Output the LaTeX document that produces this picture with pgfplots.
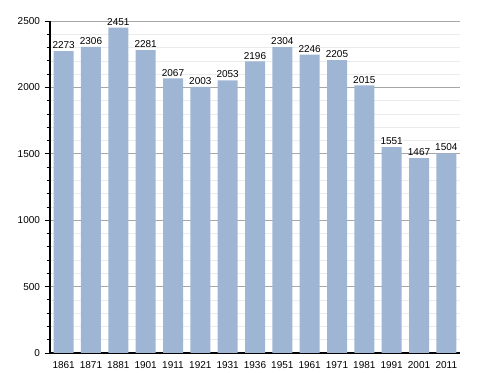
\documentclass[border=0pt]{standalone}
\usepackage{pgfplots}
\pgfplotsset{compat=1.18}
\usepackage{fontspec}
\setmainfont{Liberation Sans}
\definecolor{barc}{RGB}{158,181,211}
\begin{document}
\begin{tikzpicture}
\useasboundingbox (-37.5pt,-15pt) rectangle (328.5pt,264.75pt);
\begin{axis}[
  at={(0,0)}, anchor=south west,
  scale only axis, width=307.5pt, height=249pt,
  xmin=-0.5, xmax=14.5, ymin=0, ymax=2500,
  ybar, bar width=15pt,
  xtick=data,
  xticklabels={1861,1871,1881,1901,1911,1921,1931,1936,1951,1961,1971,1981,1991,2001,2011},
  ytick={0,500,1000,1500,2000,2500},
  minor ytick={100,200,300,400,600,700,800,900,1100,1200,1300,1400,1600,1700,1800,1900,2100,2200,2300,2400},
  ymajorgrids, yminorgrids,
  major grid style={draw=black!35, line width=0.5pt},
  minor grid style={draw=black!8, line width=0.5pt},
  axis x line*=bottom, axis y line*=left,
  axis line style={line width=0.8pt},
  x axis line style={-}, y axis line style={-},
  xtick style={draw=none},
  ytick style={draw=black, line width=0.6pt},
  tick align=outside,
  major tick length=4pt, minor tick length=2.5pt,
  ticklabel style={font=\fontsize{7.5}{9}\selectfont},
  /pgf/number format/assume math mode=true,
  /pgf/number format/set thousands separator={},
  nodes near coords,
  nodes near coords style={font=\fontsize{7.5}{9}\selectfont, text=black, inner sep=1.5pt},
  point meta=explicit symbolic,
  xticklabel style={yshift=1pt},
  axis on top=false,
]
\addplot[fill=barc, draw=none] table[meta=label] {
x y label
0 2273 2273
1 2306 2306
2 2451 2451
3 2281 2281
4 2067 2067
5 2003 2003
6 2053 2053
7 2196 2196
8 2304 2304
9 2246 2246
10 2205 2205
11 2015 2015
12 1551 1551
13 1467 1467
14 1504 1504
};
\end{axis}
\end{tikzpicture}
\end{document}
